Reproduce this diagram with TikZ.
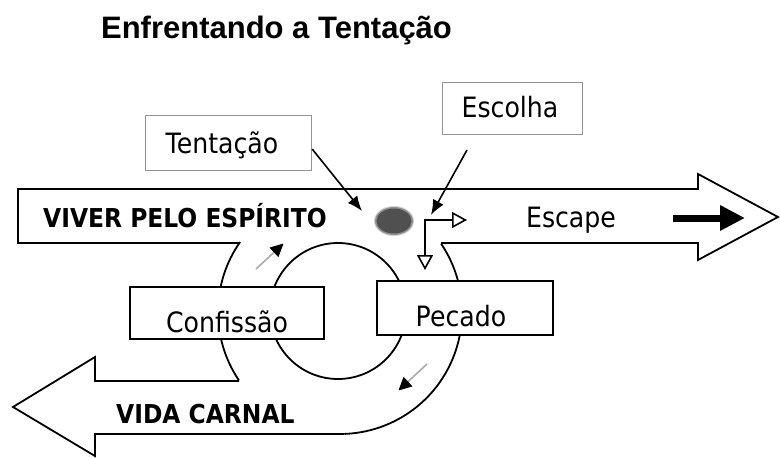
\documentclass[tikz,border=0pt]{standalone}
\usepackage{fontspec}
\setmainfont{Liberation Sans}
\newfontfamily\lblfont{DejaVu Sans}[FakeStretch=0.9]
\usetikzlibrary{arrows.meta,calc}
\definecolor{blobgray}{HTML}{505050}
\begin{document}
\begin{tikzpicture}[x=1pt,y=-1pt,
  edge/.style={line width=1.8pt, draw=black, line join=miter},
  graybox/.style={draw=gray!85, line width=1.2pt, fill=white, inner sep=0pt, anchor=north west},
  blackbox/.style={draw=black, line width=1.8pt, fill=white, inner sep=0pt, anchor=north west},
  lbl/.style={font=\lblfont\fontsize{28}{30}\selectfont, anchor=base, inner sep=0pt},
  blbl/.style={font=\lblfont\bfseries\fontsize{26}{28}\selectfont, anchor=base west, inner sep=0pt},
  pointer/.style={line width=1.6pt, -{Latex[length=15pt,width=12pt]}},
  choice/.style={line width=1.6pt, {Triangle[open,length=15pt,width=16pt]}-{Triangle[open,length=15pt,width=16pt]}},
  smallshaft/.style={draw=gray!65, line width=1.6pt},
  smallhead/.style={fill=black, draw=black, line width=0.6pt, line join=miter},
  bigarr/.style={line width=7pt, -{Triangle[length=25pt,width=24pt]}}
]
\useasboundingbox[fill=white] (0,0) rectangle (780,458);

% title
\node[font=\bfseries\fontsize{31}{36}\selectfont, anchor=base, inner sep=0pt] (title) at (276.5,38) {Enfrentando a Tentação};

% loop curves
\draw[edge] (340,312) ++(215:122) arc[start angle=215, end angle=146, radius=122];
\draw[edge] (340,312) ++(-34:122) arc[start angle=-34, end angle=88, radius=122];
\draw[edge] (338,311) circle[radius=68];

% top band arrow (Viver pelo Espirito)
\draw[edge] (441,243) -- (698,243) -- (698,260) -- (778,217) -- (698,174) -- (698,189) -- (18,189) -- (18,243) -- (240,243);
% bottom band arrow (Vida carnal)
\draw[edge] (344,434) -- (95,434) -- (95,456) -- (13,407) -- (95,357) -- (95,381) -- (239,381);

% boxes
\node[graybox, minimum width=166pt, minimum height=55pt] (tentbox) at (145,115) {};
\node[graybox, minimum width=140pt, minimum height=52pt] (escbox) at (442,82) {};
\node[blackbox, minimum width=194pt, minimum height=52pt] (confbox) at (129,286) {};
\node[blackbox, minimum width=176pt, minimum height=54pt] (pecbox) at (376,280) {};

% labels
\node[lbl] (tent) at (222,153) {Tentação};
\node[lbl] (esc) at (510,117) {Escolha};
\node[lbl] (conf) at (227,332) {Confissão};
\node[lbl] (pec) at (461,326) {Pecado};
\node[lbl] (escape) at (571,227) {Escape};
\node[blbl] (viver) at (43,227) {VIVER PELO ESPÍRITO};
\node[blbl] (vida) at (116,423) {VIDA CARNAL};

% temptation blob (soft edge)
\fill[blobgray, opacity=0.25] (394,221) ellipse[x radius=20, y radius=15];
\fill[blobgray, opacity=0.5] (394,221) ellipse[x radius=19, y radius=14];
\fill[blobgray] (394,221) ellipse[x radius=17.5, y radius=12.5];

% pointers
\coordinate (tenttip) at (362,211);
\draw[pointer] ([yshift=-6pt]tentbox.east) -- (tenttip);
\coordinate (escstart) at (467,150);
\coordinate (esctip) at (431,215);
\draw[pointer] (escstart) -- (esctip);

% choice arrows
\coordinate (chR) at (467,220);
\coordinate (chC) at (425,220);
\coordinate (chD) at (425,270);
\draw[choice] (chR) -- (chC) -- (chD);

% small loop arrows (gray shaft, black head)
\coordinate (s1a) at (256,269);
\coordinate (s1b) at (283,244);
\coordinate (s1c) at ($(s1b)!12pt!(s1a)$);
\draw[smallshaft] (s1a) -- (s1c);
\draw[smallhead] (s1b) -- ($(s1c)!6pt!90:(s1b)$) -- ($(s1c)!6pt!-90:(s1b)$) -- cycle;
\coordinate (s2a) at (427,364);
\coordinate (s2b) at (399,390);
\coordinate (s2c) at ($(s2b)!12pt!(s2a)$);
\draw[smallshaft] (s2a) -- (s2c);
\draw[smallhead] (s2b) -- ($(s2c)!6pt!90:(s2b)$) -- ($(s2c)!6pt!-90:(s2b)$) -- cycle;

% escape arrow
\coordinate (e0) at (673,218);
\coordinate (e1) at (745,218);
\draw[bigarr] (e0) -- (e1);
\end{tikzpicture}
\end{document}
